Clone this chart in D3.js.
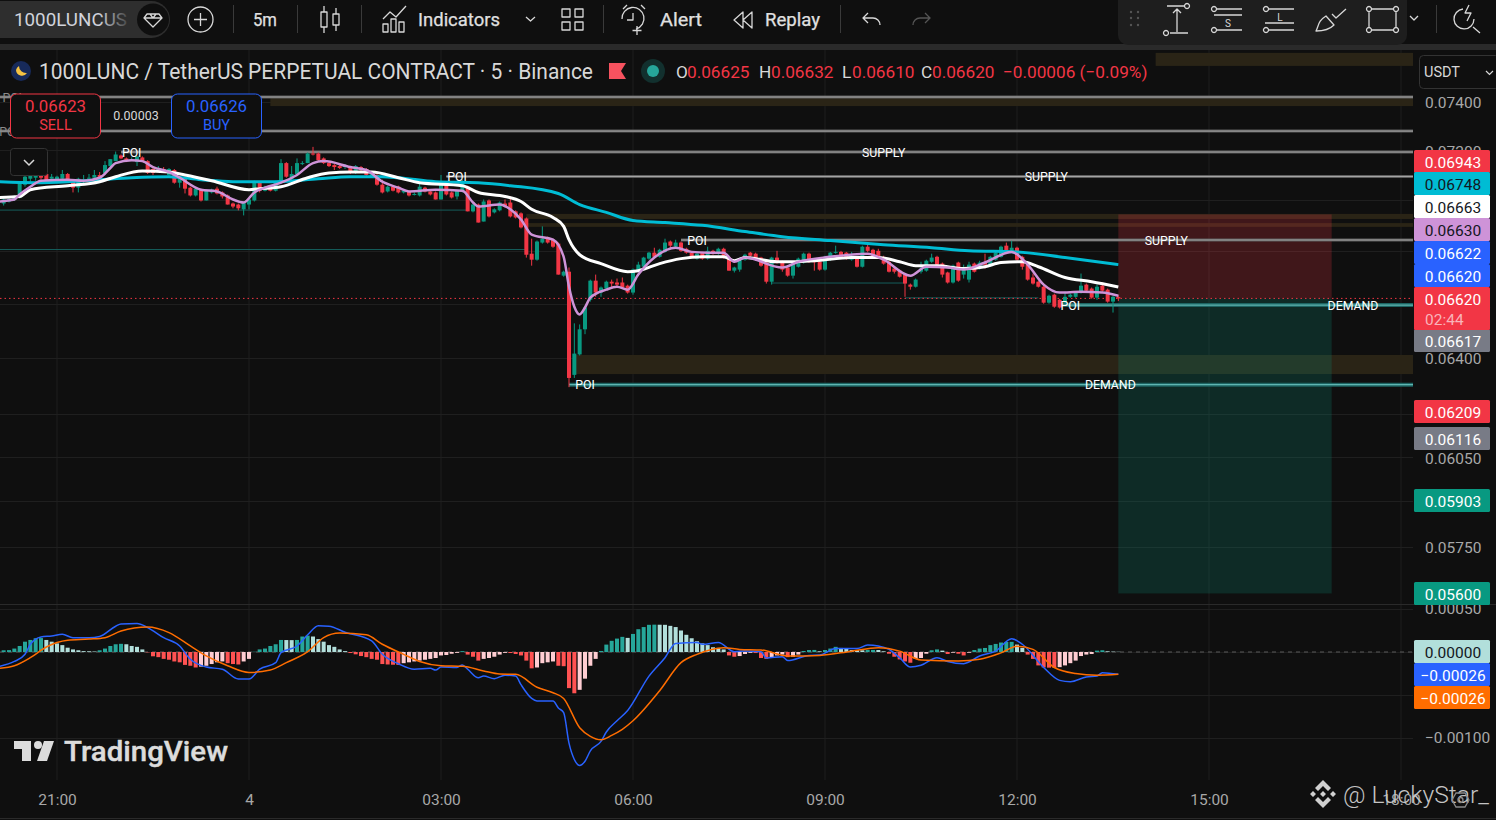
<!DOCTYPE html>
<html>
<head>
<meta charset="utf-8">
<title>1000LUNC / TetherUS</title>
<script src="https://cdn.jsdelivr.net/npm/d3@7"></script>
<style>
  html, body { margin: 0; padding: 0; background: #0f0f0f; overflow: hidden; }
  text { font-family: Roboto, "Open Sans", sans-serif; }
</style>
</head>
<body>
<div class="canvas"></div>
<script>
// bars are 5 minutes apart, bar 0 is 21:00; prices are in units of 0.00001
const firstBar = -10;

// open, high, low, close
const candles = [
  [6986,7006,6978,7002],[6994,7010,6990,7004],[7000,7018,6996,7014],[7010,7073,7006,7069],[7061,7108,7053,7093],
  [7085,7112,7073,7097],[7089,7112,7077,7100],[7106,7116,7081,7089],[7104,7104,7073,7077],[7085,7104,7081,7093],
  [7081,7097,7077,7093],[7085,7120,7073,7104],[7104,7108,7069,7073],[7077,7077,7030,7049],[7049,7089,7030,7085],
  [7077,7100,7061,7081],[7085,7104,7081,7089],[7089,7120,7073,7100],[7100,7112,7085,7089],[7108,7156,7100,7140],
  [7136,7164,7132,7164],[7156,7195,7156,7183],[7179,7183,7164,7167],[7167,7171,7152,7156],[7160,7171,7156,7164],
  [7152,7175,7136,7175],[7171,7175,7152,7156],[7156,7160,7104,7108],[7124,7128,7100,7108],[7116,7136,7112,7124],
  [7124,7132,7108,7112],[7100,7128,7097,7124],[7120,7124,7065,7069],[7069,7093,7049,7089],[7089,7093,7026,7045],
  [7049,7053,7014,7018],[7018,7049,7014,7045],[7041,7045,6994,6998],[6998,7041,6998,7037],[7030,7045,7026,7041],
  [7045,7053,7022,7026],[7030,7034,7006,7014],[7018,7022,6982,6982],[6986,6990,6967,6974],[6982,6986,6959,6967],
  [6963,6994,6939,6990],[6982,7006,6963,7002],[6998,7077,6994,7073],[7069,7073,7030,7037],[7037,7057,7034,7053],
  [7053,7057,7034,7037],[7037,7077,7034,7069],[7069,7164,7065,7148],[7148,7152,7089,7093],[7085,7136,7073,7104],
  [7104,7167,7100,7148],[7144,7156,7140,7148],[7148,7191,7148,7187],[7187,7214,7179,7183],[7187,7191,7156,7160],
  [7167,7171,7144,7148],[7148,7152,7132,7136],[7140,7144,7120,7132],[7136,7140,7124,7128],[7132,7144,7124,7140],
  [7132,7136,7104,7108],[7108,7140,7104,7136],[7132,7136,7116,7120],[7124,7128,7097,7100],[7093,7116,7089,7108],
  [7100,7104,7057,7061],[7061,7081,7026,7030],[7034,7057,7030,7053],[7053,7057,7034,7037],[7053,7057,7026,7030],
  [7030,7041,7026,7037],[7034,7037,7014,7018],[7022,7030,7018,7024],[7018,7065,7014,7053],[7049,7053,7030,7034],
  [7034,7037,7018,7022],[7030,7034,7002,7002],[7002,7100,7002,7069],[7069,7073,7018,7022],[7030,7034,7006,7010],
  [7014,7041,7002,7037],[7034,7081,7030,7069],[7053,7057,6955,6955],[6955,6986,6951,6982],[6982,6986,6911,6911],
  [6915,7002,6915,6994],[6998,7002,6931,6935],[6951,6967,6947,6963],[6959,6994,6955,6990],[6986,7002,6970,6974],
  [6990,7014,6931,6935],[6955,6959,6927,6931],[6947,6951,6888,6892],[6927,6931,6775,6786],[6790,6848,6744,6767],
  [6767,6841,6763,6837],[6833,6896,6829,6848],[6852,6856,6829,6833],[6844,6848,6813,6817],[6829,6833,6710,6710],
  [6706,6725,6702,6721],[6721,6737,6295,6328],[6339,6527,6328,6416],[6413,6523,6409,6505],[6505,6590,6487,6586],
  [6615,6691,6608,6687],[6687,6710,6626,6642],[6642,6665,6626,6661],[6657,6687,6653,6683],[6683,6691,6661,6676],
  [6680,6695,6661,6672],[6680,6699,6657,6661],[6668,6672,6638,6642],[6642,6733,6634,6729],[6725,6759,6721,6748],
  [6740,6778,6736,6775],[6771,6797,6767,6794],[6794,6813,6775,6778],[6778,6809,6775,6805],[6797,6848,6794,6833],
  [6837,6841,6809,6821],[6817,6844,6813,6833],[6833,6837,6797,6801],[6809,6813,6790,6794],[6794,6797,6775,6778],
  [6771,6794,6767,6790],[6794,6797,6767,6771],[6771,6817,6767,6801],[6801,6805,6786,6790],[6790,6813,6786,6809],
  [6809,6813,6771,6775],[6775,6778,6725,6725],[6725,6740,6718,6737],[6729,6775,6721,6771],[6767,6790,6763,6786],
  [6794,6797,6778,6782],[6790,6794,6763,6767],[6775,6778,6740,6744],[6756,6759,6676,6683],[6683,6778,6672,6775],
  [6775,6801,6752,6756],[6759,6763,6721,6729],[6737,6740,6702,6706],[6706,6759,6695,6756],[6740,6775,6737,6771],
  [6756,6794,6752,6790],[6790,6794,6755,6759],[6761,6770,6725,6757],[6759,6763,6725,6729],[6729,6782,6725,6778],
  [6767,6797,6763,6794],[6794,6821,6790,6797],[6797,6801,6775,6778],[6794,6797,6767,6771],[6767,6797,6763,6782],
  [6775,6778,6737,6740],[6740,6821,6737,6817],[6817,6825,6797,6801],[6805,6809,6775,6778],[6801,6809,6775,6778],
  [6775,6782,6748,6752],[6759,6763,6718,6721],[6733,6740,6714,6721],[6725,6729,6699,6702],[6710,6714,6626,6676],
  [6672,6676,6653,6664],[6664,6695,6661,6691],[6721,6759,6714,6733],[6725,6767,6721,6763],[6759,6790,6755,6775],
  [6778,6782,6744,6748],[6752,6756,6699,6710],[6718,6721,6676,6680],[6680,6748,6676,6744],[6756,6759,6683,6687],
  [6710,6748,6695,6729],[6691,6759,6680,6748],[6752,6756,6718,6721],[6737,6763,6729,6756],[6756,6790,6733,6748],
  [6744,6782,6740,6778],[6767,6797,6763,6794],[6778,6821,6775,6817],[6821,6833,6797,6801],[6797,6840,6794,6813],
  [6813,6817,6763,6767],[6778,6782,6729,6740],[6748,6752,6687,6691],[6699,6714,6672,6676],[6683,6687,6661,6664],
  [6664,6668,6600,6604],[6604,6634,6600,6630],[6634,6638,6585,6589],[6615,6618,6582,6586],[6604,6645,6600,6626],
  [6626,6638,6622,6634],[6626,6645,6622,6642],[6642,6714,6638,6668],[6672,6676,6645,6649],[6657,6661,6619,6623],
  [6623,6672,6615,6664],[6668,6680,6645,6649],[6653,6657,6604,6608],[6608,6630,6567,6626],[6625,6632,6610,6620]
];

// moving averages as [bar, price]
const ema9 = [[-11,6994],[-8,7002],[-7,7022],[-5,7053],[-3,7077],[2,7081],[5,7077],[8,7089],[10,7128],[11,7148],[14,7160],[16,7156],[18,7132],[21,7112],[23,7089],[27,7041],[30,7034],[33,7002],[35,6990],[37,7030],[39,7049],[42,7069],[45,7100],[48,7148],[50,7156],[55,7132],[58,7120],[61,7073],[64,7049],[66,7034],[71,7041],[76,7037],[78,6990],[79,6974],[83,6982],[85,6963],[87,6923],[89,6864],[93,6844],[95,6778],[96,6664],[97,6589],[98,6560],[99,6586],[100,6623],[103,6653],[105,6664],[107,6653],[109,6710],[112,6775],[116,6813],[119,6797],[122,6794],[125,6794],[127,6759],[129,6775],[136,6737],[139,6759],[145,6778],[152,6790],[155,6767],[160,6706],[163,6740],[167,6737],[170,6729],[174,6756],[179,6797],[182,6748],[185,6672],[188,6642],[192,6645],[196,6642],[199,6630]];
const ema21 = [[-11,7010],[-7,7014],[-5,7041],[2,7057],[8,7073],[11,7093],[16,7116],[21,7112],[24,7100],[29,7077],[36,7041],[38,7045],[42,7053],[47,7089],[51,7108],[55,7112],[59,7112],[64,7089],[68,7069],[76,7057],[79,7030],[84,7014],[87,6994],[89,6963],[93,6931],[95,6896],[96,6844],[98,6786],[102,6752],[107,6721],[109,6725],[113,6752],[117,6771],[121,6778],[125,6778],[127,6763],[129,6775],[135,6759],[138,6759],[142,6763],[149,6775],[154,6775],[158,6759],[161,6744],[165,6744],[170,6733],[174,6740],[177,6756],[181,6759],[184,6740],[189,6699],[194,6683],[199,6663]];
const ema200 = [[-11,7073],[-4,7069],[2,7073],[8,7081],[14,7089],[21,7093],[27,7081],[33,7073],[41,7073],[49,7085],[55,7093],[61,7093],[64,7089],[71,7073],[79,7069],[85,7057],[94,7026],[98,6982],[103,6951],[108,6919],[114,6911],[121,6900],[129,6876],[136,6856],[145,6841],[155,6825],[164,6813],[171,6801],[180,6797],[189,6775],[199,6748]];

// macd pane, same units
const histogram = [
  2,2.2,4,7,12,14,16,16.2,14,12,10,8,5,3,2,1,0.8,0.6,2,4,7,9,9.5,9,7,6,3,-0.4,-5,-6,-8,-9,-11,-12,-15,-16,-18,-17,-16,-14,-12,-11,-13,-14,-14.5,-11,-8,0.3,3,4,7,9,14,13.9,13.8,14,18,19,18,15,12,8,6,3,1,-1.2,-2.7,-4.7,-6,-8,-9,-14,-14.5,-14.8,-15,-13,-12,-11,-10,-9,-8,-7,-4,-3.5,-2,-1,1,-3,-5.5,-10,-8,-7,-5.5,-3,-1,-1.2,-2.3,-4,-10,-19,-18,-13,-12,-11,-16,-16.5,-42,-48,-44,-31,-16,-8,
  1.2,8.6,13,15.6,17.6,16.4,21,26.5,29,31.6,31.8,31.7,31.6,30.4,29,25,20,16,12.5,10,8,5.5,4.7,3,-4,-5.5,-4.7,-2.3,-1,-1.2,-7,-8,-6,-4,-3,-6,-5.5,-3,1.2,2.3,2.4,0.8,2.3,4,6,4.7,4,2.3,2.2,2,2.3,2.4,2.3,0.8,-2,-5.5,-8.6,-11,-12.5,-8,-7,-2,2,3,1.6,-2.3,-0.8,-2,-4,-0.8,2.3,4,4.7,8,9.4,11,11.7,11.8,8.6,4.7,-3,-8,-15.6,-18,-18.2,-18.4,-17.6,-15.6,-13,-10,-4.7,-3,-2.3,1.6,2,0.8,0.4,0.3
];
const macdLine = [[-11,-17],[-8,-11],[-6,-2.7],[-5,9],[-3,17.5],[-1,18.6],[1,20.5],[3,16.6],[6,16.6],[8,18],[11,30],[12,32.6],[15,33],[17,28.4],[20,16.6],[23,7],[25,-8.5],[28,-17.5],[31,-20],[34,-31.4],[36,-31.4],[38,-20],[41,-12.4],[42,-0.8],[45,7],[47,20],[49,30.6],[51,30],[54,23],[59,13],[61,-2.7],[64,-13.6],[67,-20],[70,-19],[71,-21],[72,-17.5],[75,-18],[76,-15],[77,-20],[79,-30],[80,-28],[82,-31],[84,-27],[86,-28],[87,-38],[89,-54],[90,-57],[93,-57],[94,-65],[95,-70.6],[96,-106],[97,-125],[98,-132],[99,-127],[100,-115],[102,-104],[103,-93],[105,-80],[107,-68],[111,-28],[114,-6.6],[116,10],[120,11],[121,9],[124,11],[127,0.4],[129,1.2],[132,0.4],[133,-7],[136,-5.4],[137,-10],[141,-4],[143,-3.5],[146,4],[150,4],[152,8],[154,7],[156,3],[158,-6.6],[160,-17.5],[162,-15.5],[165,-6.6],[167,-11],[170,-13.6],[173,-4.6],[176,1],[179,15.5],[181,9],[185,-18],[188,-33],[190,-34.5],[193,-29],[195,-28],[196,-24],[199,-26]];
const signalLine = [[-11,-19],[-8,-16],[-5,-6.6],[-2,5.8],[2,13.6],[6,15],[9,16.7],[12,24.4],[17,29],[21,22.5],[25,7],[28,-4.6],[32,-16],[36,-23.7],[40,-21],[43,-12.4],[47,0.4],[50,16.7],[53,22],[58,20],[61,9],[65,-2.7],[68,-11],[72,-16],[76,-16.7],[80,-22],[83,-25.6],[86,-26],[90,-41],[93,-47.4],[95,-54],[98,-88],[100,-98],[102,-102],[104,-97],[106,-90],[108,-80],[113,-45],[117,-12.4],[120,-2.7],[125,5],[128,3],[132,2.3],[137,-4.6],[143,-4],[149,1],[154,5],[158,1],[162,-9.3],[169,-10.5],[173,-8.5],[177,-1],[180,6.6],[183,3],[187,-18],[191,-25],[195,-27],[199,-26]];

// axes
const timeBars = [0, 36, 72, 108, 144, 180, 216, 252];
const timeLabels = ['21:00', '4', '03:00', '06:00', '09:00', '12:00', '15:00', '18:00'];
const priceTicks = [0.074, 0.072, 0.07, 0.068, 0.066, 0.064, 0.062, 0.0605, 0.059, 0.0575];
const macdTicks = [0.0005, 0, -0.0005, -0.001];
const macdTickLabels = ['0.00050', '', '', '\u22120.00100'];

// drawn levels: price, first bar, label
const lineLevels = [0.07421, 0.07279, 0.07193, 0.07094, 0.06843];
const lineStarts = [-11, -11, 12, 73, 117];
const zoneBands = [[0.07609, 0.07553, 206], [0.07421, 0.07383, 40], [0.06945, 0.06925, 88], [0.06909, 0.06894, 88], [0.06411, 0.06342, 97]];
const demandLevels = [0.06595, 0.06304];
const demandStarts = [188, 96];
const thinLevels = [[0.0696, -11, 77], [0.06806, -11, 88], [0.06678, 134, 159], [0.06622, 159, 184]];
const levelTags = [
  ['POI', 0.07421, -8.4], ['POI', 0.07279, -9], ['POI', 0.07193, 14], ['SUPPLY', 0.07193, 155],
  ['POI', 0.07094, 75], ['SUPPLY', 0.07094, 185.5], ['POI', 0.06843, 120], ['SUPPLY', 0.06843, 208],
  ['POI', 0.06595, 190], ['DEMAND', 0.06595, 243], ['POI', 0.06304, 99], ['DEMAND', 0.06304, 197.5]
];

// short position tool
const position = { stop: 0.06943, entry: 0.0662, target: 0.056, from: 199, to: 239 };
const lastPrice = 0.0662;

// right scale tags: text, box colour, text colour
const scaleTags = [
  ['0.06943', '#f23645', '#fff'], ['0.06748', '#00bcd4', '#131722'], ['0.06663', '#ffffff', '#131722'],
  ['0.06630', '#ce93d8', '#131722'], ['0.06622', '#2962ff', '#fff'], ['0.06620', '#2962ff', '#fff'],
  ['0.06620', '#f23645', '#fff'], ['0.06617', '#787b86', '#fff'], ['0.06209', '#f23645', '#fff'],
  ['0.06116', '#787b86', '#fff'], ['0.05903', '#089981', '#fff'], ['0.05600', '#089981', '#fff'],
  ['0.00000', '#b2dfdb', '#131722'], ['\u22120.00026', '#2962ff', '#fff'], ['\u22120.00026', '#ff6d00', '#fff']
];
const scaleTagY = [162, 184, 207, 230, 253, 276, 299, 341, 412, 439, 501, 594, 652, 675, 698];

const dims = { w: 1496, h: 820, plot: 1413, paneSplit: 604.5, bottom: 780 };
const up = '#089981', down = '#f23645';

const svg = d3.select('.canvas').append('svg')
  .attr('width', dims.w).attr('height', dims.h)
  .style('display', 'block');

svg.append('rect').attr('width', dims.w).attr('height', dims.h).attr('fill', '#0f0f0f');

const x = d3.scaleLinear().domain([0, 36]).range([57, 249]);
const y = d3.scaleLog().domain([0.064, 0.074]).range([358, 102]);
const yMacd = d3.scaleLinear().domain([0, -0.001]).range([652, 738]);
const tick = v => v / 1e5;

const defs = svg.append('defs');
defs.append('clipPath').attr('id', 'plotClip').append('rect')
  .attr('x', 0).attr('y', 50).attr('width', dims.plot).attr('height', dims.paneSplit - 50);
defs.append('clipPath').attr('id', 'macdClip').append('rect')
  .attr('x', 0).attr('y', dims.paneSplit).attr('width', dims.plot).attr('height', dims.bottom - dims.paneSplit);
const fade = defs.append('linearGradient').attr('id', 'pillFade');
fade.append('stop').attr('offset', '0.75').attr('stop-color', '#d1d4dc');
fade.append('stop').attr('offset', '1').attr('stop-color', '#4a4a4a');

// grid
const grid = svg.append('g').attr('stroke', '#1f1f1f').attr('stroke-width', 1);
grid.selectAll('.v').data(timeBars).enter().append('line')
  .attr('x1', d => x(d)).attr('x2', d => x(d)).attr('y1', 50).attr('y2', dims.bottom);
grid.selectAll('.h').data(priceTicks).enter().append('line')
  .attr('x1', 0).attr('x2', dims.plot).attr('y1', d => Math.round(y(d)) + 0.5).attr('y2', d => Math.round(y(d)) + 0.5);
grid.selectAll('.m').data(macdTicks).enter().append('line')
  .attr('x1', 0).attr('x2', dims.plot).attr('y1', d => Math.round(yMacd(d)) + 0.5).attr('y2', d => Math.round(yMacd(d)) + 0.5);

const main = svg.append('g').attr('clip-path', 'url(#plotClip)');

// olive zones
main.selectAll('.zone').data(zoneBands).enter().append('rect')
  .attr('x', d => x(d[2])).attr('width', d => dims.plot - x(d[2]))
  .attr('y', d => y(d[0])).attr('height', d => y(d[1]) - y(d[0]))
  .attr('fill', '#2a2416');

// position boxes
main.append('rect').attr('x', x(position.from)).attr('width', x(position.to) - x(position.from))
  .attr('y', y(position.stop)).attr('height', y(position.entry) - y(position.stop))
  .attr('fill', 'rgba(242,54,69,0.22)');
main.append('rect').attr('x', x(position.from)).attr('width', x(position.to) - x(position.from))
  .attr('y', y(position.entry)).attr('height', y(position.target) - y(position.entry))
  .attr('fill', 'rgba(8,153,129,0.2)');

// level lines have a soft edge and a bright core
[['#5c5c5c', 3], ['#a8a8a8', 1]].forEach(s => {
  main.append('g').selectAll('line').data(lineLevels).enter().append('line')
    .attr('x1', (d, i) => x(lineStarts[i])).attr('x2', dims.plot)
    .attr('y1', d => y(d)).attr('y2', d => y(d))
    .attr('stroke', s[0]).attr('stroke-width', s[1]);
});
[['#1d6462', 4], ['#5fb5b1', 1.2]].forEach(s => {
  main.append('g').selectAll('line').data(demandLevels).enter().append('line')
    .attr('x1', (d, i) => x(demandStarts[i])).attr('x2', dims.plot)
    .attr('y1', d => y(d)).attr('y2', d => y(d))
    .attr('stroke', s[0]).attr('stroke-width', s[1]);
});
main.selectAll('.thin').data(thinLevels).enter().append('line')
  .attr('x1', d => x(d[1])).attr('x2', d => x(d[2]))
  .attr('y1', d => y(d[0])).attr('y2', d => y(d[0]))
  .attr('stroke', '#155e5c').attr('stroke-width', 1);

// last price line
main.append('line').attr('x1', 0).attr('x2', dims.plot)
  .attr('y1', y(lastPrice)).attr('y2', y(lastPrice))
  .attr('stroke', down).attr('stroke-width', 1).attr('stroke-dasharray', '1.5 3');

// candles
const bars = main.append('g').selectAll('g').data(candles).enter().append('g')
  .attr('fill', d => d[3] >= d[0] ? up : down)
  .attr('stroke', d => d[3] >= d[0] ? up : down);
bars.append('line')
  .attr('x1', (d, i) => x(i + firstBar)).attr('x2', (d, i) => x(i + firstBar))
  .attr('y1', d => y(tick(d[1]))).attr('y2', d => y(tick(d[2])))
  .attr('stroke-width', 1);
bars.append('rect')
  .attr('x', (d, i) => x(i + firstBar) - 2).attr('width', 4)
  .attr('y', d => y(tick(Math.max(d[0], d[3]))))
  .attr('height', d => Math.max(1, y(tick(Math.min(d[0], d[3]))) - y(tick(Math.max(d[0], d[3])))))
  .attr('stroke', 'none');

// moving averages
const priceLine = d3.line().x(d => x(d[0])).y(d => y(tick(d[1]))).curve(d3.curveMonotoneX);
main.append('path').attr('d', priceLine(ema200)).attr('fill', 'none').attr('stroke', '#00bcd4').attr('stroke-width', 3);
main.append('path').attr('d', priceLine(ema21)).attr('fill', 'none').attr('stroke', '#ffffff').attr('stroke-width', 3);
main.append('path').attr('d', priceLine(ema9)).attr('fill', 'none').attr('stroke', '#ce93d8').attr('stroke-width', 2.5);

// level tags
main.selectAll('.tag').data(levelTags).enter().append('text')
  .attr('x', d => x(d[2])).attr('y', d => y(d[1]) + 0.5)
  .attr('dy', '0.35em').attr('text-anchor', 'middle')
  .attr('fill', d => d[2] < 0 ? '#8a8a8a' : '#fff').attr('font-size', 12.3)
  .text(d => d[0]);

// macd pane
svg.append('line').attr('x1', 0).attr('x2', dims.w).attr('y1', dims.paneSplit).attr('y2', dims.paneSplit)
  .attr('stroke', '#2a2a2a');

const macd = svg.append('g').attr('clip-path', 'url(#macdClip)');
macd.append('line').attr('x1', 0).attr('x2', dims.plot).attr('y1', yMacd(0)).attr('y2', yMacd(0))
  .attr('stroke', '#5a5a5a').attr('stroke-dasharray', '4 4');

const histColor = (d, i) => {
  const prev = i > 0 ? histogram[i - 1] : d;
  if (d >= 0) return d >= prev ? '#26a69a' : '#b2dfdb';
  return d <= prev ? '#ff5252' : '#ffcdd2';
};
macd.selectAll('.hist').data(histogram).enter().append('rect')
  .attr('x', (d, i) => x(i + firstBar) - 2).attr('width', 4)
  .attr('y', d => yMacd(Math.max(d, 0) / 1e5))
  .attr('height', d => Math.abs(yMacd(d / 1e5) - yMacd(0)))
  .attr('fill', histColor);

const macdPath = d3.line().x(d => x(d[0])).y(d => yMacd(d[1] / 1e5)).curve(d3.curveMonotoneX);
macd.append('path').attr('d', macdPath(macdLine)).attr('fill', 'none').attr('stroke', '#2962ff').attr('stroke-width', 1.5);
macd.append('path').attr('d', macdPath(signalLine)).attr('fill', 'none').attr('stroke', '#ff6d00').attr('stroke-width', 1.5);

// price axis
const axisStyle = g => g.call(s => s.select('.domain').remove())
  .call(s => s.selectAll('text').attr('fill', '#a8a8a8').attr('font-size', 15.5).attr('font-family', 'Roboto'));
svg.append('g').attr('transform', 'translate(1425,1)')
  .call(d3.axisRight(y).tickValues(priceTicks).tickSize(0).tickPadding(0).tickFormat(d => d.toFixed(5)))
  .call(axisStyle);
svg.append('g').attr('transform', 'translate(1425,0)')
  .call(d3.axisRight(yMacd).tickValues(macdTicks).tickSize(0).tickPadding(0).tickFormat((d, i) => macdTickLabels[i]))
  .call(axisStyle);

// right scale tags
const tags = svg.append('g').selectAll('g').data(scaleTags).enter().append('g')
  .attr('transform', (d, i) => `translate(1414,${scaleTagY[i] - 0.5})`);
tags.append('rect').attr('y', -11.5).attr('width', 76).attr('height', 23).attr('rx', 1.5)
  .attr('fill', d => d[1]);
tags.append('text').attr('x', 39).attr('y', 1).attr('dy', '0.36em').attr('text-anchor', 'middle')
  .attr('font-size', 15.5).attr('fill', d => d[2]).text(d => d[0]);
// countdown under the last price tag
svg.append('rect').attr('x', 1414).attr('y', 306).attr('width', 76).attr('height', 24).attr('rx', 1.5).attr('fill', down);
svg.append('text').attr('x', 1425).attr('y', 325).attr('font-size', 15.5).attr('fill', '#f9b4ba').text('02:44');

// time axis
svg.append('g').attr('transform', 'translate(0,794)')
  .call(d3.axisBottom(x).tickValues(timeBars).tickSize(0).tickPadding(0).tickFormat((d, i) => timeLabels[i]))
  .call(axisStyle);
svg.append('line').attr('x1', 0).attr('x2', dims.w).attr('y1', 818.5).attr('y2', 818.5).attr('stroke', '#2a2a2a');

// TradingView logo
const logo = svg.append('g').attr('transform', 'translate(14,741)').attr('fill', '#dcdcdc');
logo.append('path').attr('d', 'M0 0H17V20H8V8H0Z');
logo.append('circle').attr('cx', 24).attr('cy', 4).attr('r', 4);
logo.append('path').attr('d', 'M30 0H40L33 20H23Z');
svg.append('text').attr('x', 64).attr('y', 761).attr('font-size', 27).attr('font-weight', 500)
  .attr('fill', '#dcdcdc').attr('stroke', '#dcdcdc').attr('stroke-width', 0.4)
  .attr('textLength', 164).attr('lengthAdjust', 'spacingAndGlyphs').text('TradingView');

// watermark
const mark = svg.append('g').attr('transform', 'translate(1323,794)').attr('fill', '#d0d0d0');
mark.append('path').attr('d', 'M0 -14L8 -6L5 -3L0 -8L-5 -3L-8 -6Z M0 14L8 6L5 3L0 8L-5 3L-8 6Z M0 -3L3 0L0 3L-3 0Z M-10 -3L-7 0L-10 3L-13 0Z M10 -3L13 0L10 3L7 0Z');
svg.append('text').attr('x', 1343).attr('y', 803).attr('font-size', 24).attr('font-weight', 300).attr('fill', '#c4c4c4')
  .attr('textLength', 146).attr('lengthAdjust', 'spacingAndGlyphs').text('@ LuckyStar_');
svg.append('path').attr('d', 'M1452 800l4 -7h9l4 7l-4 7h-9z M1458 800a2.5 2.5 0 1 0 5 0a2.5 2.5 0 1 0 -5 0').attr('fill', 'none').attr('stroke', '#8a8a8a').attr('stroke-width', 1.3);

// legend row
svg.append('circle').attr('cx', 21).attr('cy', 71).attr('r', 10).attr('fill', '#172a5a');
svg.append('path').attr('d', 'M16 70a6 6 0 0 0 11 3a7 7 0 0 1 -8 -7a6 6 0 0 0 -3 4z').attr('fill', '#f5c242');
svg.append('text').attr('x', 39).attr('y', 79).attr('font-size', 22).attr('fill', '#d8d8d8')
  .attr('textLength', 554).attr('lengthAdjust', 'spacingAndGlyphs')
  .text('1000LUNC / TetherUS PERPETUAL CONTRACT \u00b7 5 \u00b7 Binance');
svg.append('path').attr('d', 'M609 63H626L621 71L626 79H609Z').attr('fill', '#f7525f');
svg.append('circle').attr('cx', 653).attr('cy', 71).attr('r', 12).attr('fill', '#12302e');
svg.append('circle').attr('cx', 653).attr('cy', 71).attr('r', 6).attr('fill', '#26a69a');

const ohlcParts = ['O', '0.06625', 'H', '0.06632', 'L', '0.06610', 'C', '0.06620', '\u22120.00006 (\u22120.09%)'];
const ohlcX = [676, 687, 759, 771, 842, 852, 921, 932, 1003];
svg.append('g').selectAll('text').data(ohlcParts).enter().append('text')
  .attr('x', (d, i) => ohlcX[i]).attr('y', 77.5).attr('font-size', 17.2)
  .attr('fill', d => d.length === 1 ? '#d8d8d8' : down).text(d => d);

// buy and sell widget
const sellBuy = [['0.06623', 'SELL', down, 10.5], ['0.06626', 'BUY', '#2962ff', 171.5]];
const widget = svg.append('g').selectAll('g').data(sellBuy).enter().append('g')
  .attr('transform', d => `translate(${d[3]},94)`);
widget.append('rect').attr('x', 0).attr('y', 0).attr('width', 90).attr('height', 44).attr('rx', 6)
  .attr('fill', '#0f0f0f').attr('stroke', d => d[2]);
widget.append('text').attr('x', 45).attr('y', 18).attr('text-anchor', 'middle').attr('font-size', 16.8)
  .attr('fill', d => d[2]).text(d => d[0]);
widget.append('text').attr('x', 45).attr('y', 36).attr('text-anchor', 'middle').attr('font-size', 14.5)
  .attr('fill', d => d[2]).text(d => d[1]);
svg.append('rect').attr('x', 102).attr('y', 103).attr('width', 69).attr('height', 24).attr('fill', '#0f0f0f');
svg.append('text').attr('x', 136).attr('y', 120).attr('text-anchor', 'middle').attr('font-size', 12.5).attr('fill', '#d8d8d8').text('0.00003');
svg.append('rect').attr('x', 10.5).attr('y', 148.5).attr('width', 37).attr('height', 27).attr('rx', 3)
  .attr('fill', '#0f0f0f').attr('stroke', '#333');
svg.append('path').attr('d', 'M24 160L29 165L34 160').attr('fill', 'none').attr('stroke', '#d8d8d8').attr('stroke-width', 1.5);

// currency box
svg.append('rect').attr('x', 1419.5).attr('y', 55.5).attr('width', 80).attr('height', 33).attr('rx', 4)
  .attr('fill', '#0f0f0f').attr('stroke', '#333');
svg.append('text').attr('x', 1424).attr('y', 77).attr('font-size', 14.5).attr('fill', '#d8d8d8').text('USDT');
svg.append('path').attr('d', 'M1486 71l3.5 3.5l3.5 -3.5').attr('fill', 'none').attr('stroke', '#d8d8d8').attr('stroke-width', 1.2);

// top toolbar
const bar = svg.append('g');
bar.append('rect').attr('width', dims.w).attr('height', 44).attr('fill', '#0f0f0f');
bar.append('rect').attr('y', 44).attr('width', dims.w).attr('height', 6).attr('fill', '#2a2a2a');
bar.append('rect').attr('x', -20).attr('y', 1).attr('width', 190).attr('height', 37).attr('rx', 18.5).attr('fill', '#2e2e2e');
bar.append('circle').attr('cx', 153).attr('cy', 19.5).attr('r', 16).attr('fill', '#0f0f0f');
bar.append('text').attr('x', 14).attr('y', 26).attr('font-size', 19).attr('fill', 'url(#pillFade)')
  .attr('textLength', 113).attr('lengthAdjust', 'spacingAndGlyphs').text('1000LUNCUS');

const labels = [['5m', 253, 24], ['Indicators', 418, 82], ['Alert', 660, 42], ['Replay', 765, 55]];
bar.selectAll('.lbl').data(labels).enter().append('text')
  .attr('x', d => d[1]).attr('y', 26).attr('font-size', 18.5).attr('fill', '#e0e0e0')
  .attr('stroke', '#e0e0e0').attr('stroke-width', 0.25)
  .attr('textLength', d => d[2]).attr('lengthAdjust', 'spacingAndGlyphs').text(d => d[0]);

const seps = [233, 297, 361, 603, 840, 1436];
bar.selectAll('.sep').data(seps).enter().append('line')
  .attr('x1', d => d + 0.5).attr('x2', d => d + 0.5).attr('y1', 5).attr('y2', 33).attr('stroke', '#3a3a3a');

// drawing tools panel
bar.append('rect').attr('x', 1118).attr('y', -10).attr('width', 289).attr('height', 55).attr('rx', 10).attr('fill', '#1e1e1e');

const icons = bar.append('g').attr('fill', 'none').attr('stroke', '#d8d8d8').attr('stroke-width', 1.3).attr('stroke-linejoin', 'round');
const iconPaths = [
  // gem, add, candles, indicators, layouts, alert, replay, undo
  'M147 14h12l3 4l-9 9l-9 -9z M150 14l3 4l3 -4 M144 18h18',
  'M188 19.5a12.5 12.5 0 1 0 25 0a12.5 12.5 0 1 0 -25 0 M200.5 13v13 M194 19.5h13',
  'M321 12h6v15h-6z M324 6v6 M324 27v6 M333 14h6v11h-6z M336 8v6 M336 25v6',
  'M383 32v-8h5v8z M391 32v-13h5v13z M399 32v-10h5v10z M383 19l7 -7l6 5l10 -11',
  'M526 17l4.5 4l4.5 -4',
  'M562 9h8v8h-8z M575 9h8v8h-8z M562 22h8v8h-8z M575 22h8v8h-8z',
  'M622 19a11 11 0 1 1 14 10 M633 13v7h-6 M637 26v9 M632.5 30.5h9 M623 9l4 -4 M641 5l4 4',
  'M743 12l-9 8l9 8z M752 12l-9 8l9 8z',
  'M868 13l-5 5l5 5 M863 18h10a7 7 0 0 1 7 7',
  // drawing tools
  'M1167 6h17 M1177 9v23 M1173 13l4 -4l4 4 M1170 33h18 M1187 3.5a2.5 2.5 0 1 0 .01 0 M1166 30.5a2.5 2.5 0 1 0 .01 0',
  'M1217 9h25 M1214 15h28 M1217 30h25 M1214 6.5a2.5 2.5 0 1 0 .01 0 M1214 27.5a2.5 2.5 0 1 0 .01 0',
  'M1269 9h25 M1265 23h29 M1269 30h25 M1266 6.5a2.5 2.5 0 1 0 .01 0 M1266 27.5a2.5 2.5 0 1 0 .01 0',
  'M1316 31c3 -6 2 -10 10 -15l8 9c-3 3 -7 6 -18 6z M1332 14l4 4l10 -9',
  'M1371 9h23 M1371 30h23 M1369 11v17 M1396 11v17 M1369 6.5a2.5 2.5 0 1 0 .01 0 M1396 6.5a2.5 2.5 0 1 0 .01 0 M1369 27.5a2.5 2.5 0 1 0 .01 0 M1396 27.5a2.5 2.5 0 1 0 .01 0',
  'M1410 16l4 4l4 -4',
  'M1463 9a10 10 0 1 0 11 10 M1469 5l-4 8h6l-4 8 M1473 27l7 6'
];
icons.selectAll('path').data(iconPaths).enter().append('path').attr('d', d => d);
bar.append('path').attr('d', 'M925 13l5 5l-5 5 M930 18h-10a7 7 0 0 0 -7 7').attr('fill', 'none').attr('stroke', '#555').attr('stroke-width', 1.3);
bar.append('text').attr('x', 1228).attr('y', 27).attr('text-anchor', 'middle').attr('font-size', 10).attr('fill', '#d8d8d8').text('S');
bar.append('text').attr('x', 1280).attr('y', 21).attr('text-anchor', 'middle').attr('font-size', 10).attr('fill', '#d8d8d8').text('L');
const dots = d3.cross([1131, 1138], [12, 18, 25]);
bar.selectAll('.dot').data(dots).enter().append('circle').attr('cx', d => d[0]).attr('cy', d => d[1]).attr('r', 1.2).attr('fill', '#555');
</script>
</body>
</html>
